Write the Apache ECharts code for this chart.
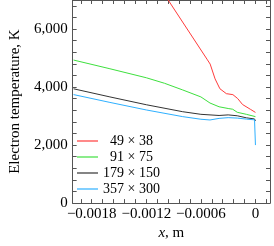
<!DOCTYPE html>
<html>
<head>
<meta charset="utf-8">
<script src="https://cdn.jsdelivr.net/npm/echarts@6/dist/echarts.min.js"></script>
<style>html,body{margin:0;padding:0;background:#fff}#c{width:274px;height:246px}</style>
</head>
<body>
<div id="c"></div>
<script>
// ---- data ----
const seriesNames = ['  49 × 38', '  91 × 75', '179 × 150', '357 × 300'];
const xRed   = [-0.00096, -0.000533, -0.000498, -0.000444, -0.000391, -0.00032, -0.000248, -0.000195, -0.000142, -0.000053, 0];
const yRed   = [7000, 4961, 4791, 4282, 3942, 3772, 3738, 3602, 3398, 3228, 3126];
const xGreen = [-0.002, -0.0016, -0.0012, -0.001, -0.0008, -0.0006, -0.0005, -0.0004, -0.0003, -0.00025, -0.0002, -0.0001, 0];
const yGreen = [4930, 4630, 4320, 4130, 3900, 3660, 3450, 3320, 3260, 3235, 3130, 3060, 2980];
const xBlack = [-0.002, -0.0016, -0.0012, -0.0008, -0.0006, -0.0004, -0.0003, -0.0002, -0.0001, -0.00001, 0];
const yBlack = [3940, 3660, 3390, 3150, 3060, 3020, 3040, 3010, 2940, 2900, 2830];
const xBlue  = [-0.002, -0.0016, -0.0012, -0.0008, -0.0006, -0.0005, -0.0004, -0.0003, -0.0002, -0.0001, -0.00001, 0];
const yBlue  = [3740, 3470, 3210, 2980, 2890, 2865, 2920, 2945, 2930, 2895, 2870, 2000];
const xLabelTicks = [-0.0018, -0.0012, -0.0006, 0];
const xMinorTicks = [-0.00192, -0.0018, -0.00168, -0.00156, -0.00144, -0.00132, -0.0012, -0.00108, -0.00096, -0.00084, -0.00072, -0.0006, -0.00048, -0.00036, -0.00024, -0.00012, 0, 0.00012];
const yLabelTicks = [0, 2000, 4000, 6000];
const yMinorTicks = [0, 400, 800, 1200, 1600, 2000, 2400, 2800, 3200, 3600, 4000, 4400, 4800, 5200, 5600, 6000, 6400, 6800];
const colors = ['#ff3b3b', '#3ee03e', '#333333', '#2eb0ff'];

const zip = (xs, ys) => xs.map((x, i) => [x, ys[i]]);
const font = '"Liberation Serif", "DejaVu Serif", serif';
const axisColor = '#555';

function fmtX(v) {
  if (Math.abs(v) < 1e-12) return '0';
  const s = Math.abs(v).toFixed(4);
  return (v < 0 ? '\u2212' : '') + s;
}
function fmtY(v) {
  return String(Math.round(v)).replace(/\B(?=(\d{3})+(?!\d))/g, ',');
}

const xCommon = {
  type: 'value', min: -0.00201, max: 0.00016,
  axisLine: { show: true, onZero: false, lineStyle: { color: axisColor, width: 1 } },
  axisTick: { show: true, inside: true, length: 4, customValues: xMinorTicks, lineStyle: { color: axisColor } },
  splitLine: { show: false }
};
const yCommon = {
  type: 'value', min: 0, max: 7000,
  axisLine: { show: true, onZero: false, lineStyle: { color: axisColor, width: 1 } },
  axisTick: { show: true, inside: true, length: 4, customValues: yMinorTicks, lineStyle: { color: axisColor } },
  splitLine: { show: false }
};

const chart = echarts.init(document.getElementById('c'), null, { renderer: 'canvas' });
chart.setOption({
  animation: false,
  backgroundColor: '#fff',
  grid: { left: 67, right: 4, top: 0, bottom: 40, containLabel: false },
  legend: {
    orient: 'vertical', left: 77, top: 134, padding: 0, itemGap: 2,
    icon: 'rect', itemWidth: 21, itemHeight: 1.2,
    textStyle: { fontFamily: font, fontSize: 14, color: '#000', lineHeight: 14 },
    data: seriesNames
  },
  xAxis: [
    Object.assign({}, xCommon, {
      position: 'bottom',
      name: '{i|x}, m', nameLocation: 'middle', nameGap: 20,
      nameTextStyle: { fontFamily: font, fontSize: 15, color: '#000',
        rich: { i: { fontFamily: font, fontSize: 15, fontStyle: 'italic', color: '#000' } } },
      axisLabel: { show: true, customValues: xLabelTicks, formatter: fmtX, margin: 3,
        fontFamily: font, fontSize: 15, color: '#000' }
    }),
    Object.assign({}, xCommon, { position: 'top', axisLabel: { show: false } })
  ],
  yAxis: [
    Object.assign({}, yCommon, {
      position: 'left',
      name: 'Electron temperature, K', nameLocation: 'middle', nameGap: 48, nameRotate: 90,
      nameTextStyle: { fontFamily: font, fontSize: 15, color: '#000' },
      axisLabel: { show: true, customValues: yLabelTicks, formatter: fmtY, margin: 5,
        fontFamily: font, fontSize: 15, color: '#000' }
    }),
    Object.assign({}, yCommon, { position: 'right', axisLabel: { show: false } })
  ],
  series: [
    { name: seriesNames[0], type: 'line', data: zip(xRed, yRed), color: colors[0] },
    { name: seriesNames[1], type: 'line', data: zip(xGreen, yGreen), color: colors[1] },
    { name: seriesNames[2], type: 'line', data: zip(xBlack, yBlack), color: colors[2] },
    { name: seriesNames[3], type: 'line', data: zip(xBlue, yBlue), color: colors[3] }
  ].map(s => Object.assign(s, {
    symbol: 'none', smooth: false, clip: true,
    lineStyle: { width: 1, color: s.color }, itemStyle: { color: s.color }
  }))
});
</script>
</body>
</html>
